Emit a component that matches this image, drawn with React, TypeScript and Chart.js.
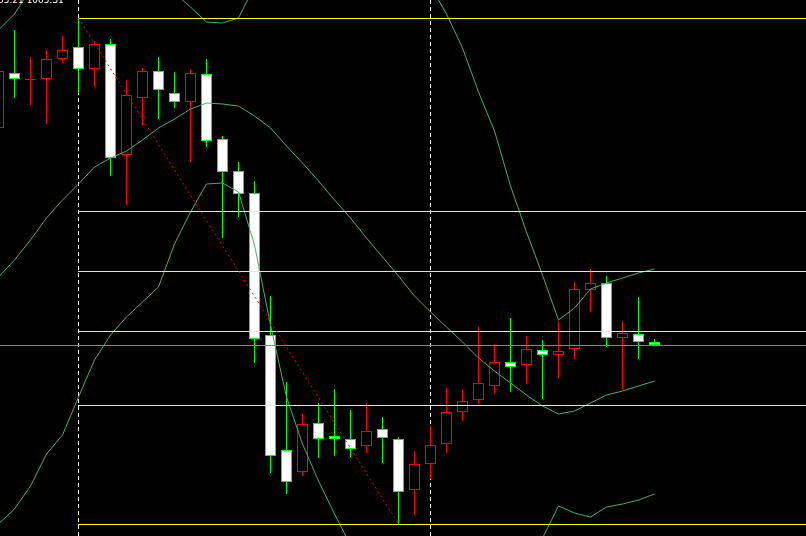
import React, { useEffect, useRef } from "react";
import { Chart, registerables } from "chart.js";

Chart.register(...registerables);

// Candle index of the first candle (partially visible at the left edge)
const firstCandle = -1;
const open = [997.2, 1002.7, 1002.0, 1002.1, 1004.1, 1005.3, 1003.1, 1005.6, 994.5, 1000.2, 1002.9, 1000.7, 999.8, 1002.6, 996.1, 992.9, 990.7, 976.5, 965.0, 962.8, 967.7, 966.4, 966.1, 965.4, 967.1, 966.1, 961.0, 963.6, 965.6, 968.8, 970.0, 971.4, 973.8, 973.5, 975.0, 974.5, 975.1, 981.0, 981.7, 976.2, 976.6, 975.8];
const high = [1004.0, 1007.0, 1004.3, 1005.0, 1006.4, 1008.2, 1005.9, 1006.1, 1002.0, 1003.2, 1004.3, 1002.8, 1003.1, 1004.1, 996.4, 993.8, 991.9, 980.4, 971.8, 968.6, 969.7, 971.1, 969.0, 969.7, 968.3, 966.3, 964.9, 967.4, 971.2, 971.0, 977.3, 975.6, 978.2, 976.4, 976.0, 977.9, 981.8, 983.1, 982.4, 977.9, 980.3, 976.1];
const low = [996.5, 1000.2, 999.5, 997.6, 1003.7, 1000.7, 1001.3, 992.4, 989.5, 997.4, 998.1, 999.2, 993.8, 995.3, 986.2, 988.3, 973.7, 962.7, 960.6, 962.4, 964.2, 964.4, 964.3, 964.7, 963.7, 957.6, 958.5, 962.1, 964.7, 967.9, 969.6, 970.7, 970.8, 971.6, 970.1, 972.2, 974.1, 978.8, 975.3, 971.1, 974.1, 975.5];
const close = [1002.9, 1002.1, 1002.1, 1004.1, 1005.0, 1003.1, 1005.6, 994.2, 1000.5, 1002.9, 1001.0, 999.8, 1002.7, 995.9, 992.8, 990.6, 976.1, 964.4, 961.8, 967.6, 966.1, 966.1, 965.1, 966.9, 966.2, 960.8, 963.6, 965.5, 968.8, 969.9, 971.7, 973.8, 973.3, 975.1, 974.5, 974.9, 981.1, 981.7, 976.2, 976.7, 975.8, 975.5];

// Bollinger bands, starting one candle before the first candle
const firstBand = -2;
const bandUpper = [1005.0, 1007.0, 1008.6, 1011.1, 1012.5, 1014.0, 1015.0, 1015.5, 1015.5, 1015.0, 1014.0, 1012.5, 1010.7, 1009.3, 1007.8, 1007.7, 1008.2, 1011.4, 1014.0, 1016.0, 1017.0, 1017.5, 1017.5, 1017.0, 1016.5, 1015.5, 1014.5, 1013.0, 1011.4, 1008.6, 1005.2, 1000.8, 996.9, 991.4, 986.8, 982.5, 978.0, 979.2, 981.1, 981.7, 982.2, 982.7, 983.1];
const bandMiddle = [980.7, 982.3, 984.0, 986.0, 988.2, 990.0, 991.6, 993.3, 994.2, 994.9, 996.0, 997.2, 998.1, 999.1, 999.7, 999.6, 999.4, 998.4, 997.2, 995.4, 993.7, 991.9, 990.0, 988.2, 986.2, 984.3, 982.4, 980.4, 978.8, 977.3, 975.8, 974.2, 972.9, 971.7, 970.5, 969.4, 968.6, 968.9, 969.7, 970.5, 970.9, 971.4, 971.9];
const bandLower = [956.5, 957.6, 959.1, 961.4, 964.6, 966.5, 970.3, 974.0, 976.5, 978.3, 979.8, 981.3, 985.6, 988.8, 991.6, 991.7, 990.8, 985.5, 977.5, 970.3, 965.6, 961.9, 958.6, 955.5, 953.0, 951.0, 949.5, 948.5, 948.0, 948.0, 948.5, 949.5, 950.8, 952.5, 954.2, 956.2, 959.4, 958.7, 958.3, 959.3, 959.6, 960.0, 960.6];

// Fibonacci retracement from swing high (candle 4) to swing low (candle 24)
const fibRatios = [0, 0.236, 0.382, 0.5, 0.618, 1];
const fibFrom = 4;
const fibTo = 24;
// Vertical period separators
const separators = [4, 26];
const headerText = "05.21 1005.51";

const X_MIN = -0.90625;
const X_MAX = 49.46875;
const Y_MIN = 956.4;
const Y_MAX = 1010;

const BEAR_LINE = "#00ff00";
const BULL_LINE = "#ff0000";

export default function App() {
  const ref = useRef<HTMLCanvasElement | null>(null);

  useEffect(() => {
    const canvas = ref.current;
    if (!canvas) return;
    const idx = open.map((_, i) => i + firstCandle);
    const isBull = open.map((o, i) => close[i] > o);
    const fibHigh = high[fibFrom - firstCandle];
    const fibLow = low[fibTo - firstCandle];
    const fibLevels = fibRatios.map((r) => fibLow + r * (fibHigh - fibLow));
    const bid = close[close.length - 1];

    const band = (arr: number[]) => arr.map((v, i) => ({ x: i + firstBand, y: v }));

    const overlay = {
      id: "overlay",
      beforeDatasetsDraw(chart: any) {
        const { ctx, scales, chartArea } = chart;
        const xs = scales.x;
        ctx.save();
        ctx.strokeStyle = "#ffffff";
        ctx.lineWidth = 1;
        ctx.setLineDash([4, 3]);
        separators.forEach((k) => {
          const x = Math.floor(xs.getPixelForValue(k)) + 0.5;
          ctx.beginPath();
          ctx.moveTo(x, chartArea.top);
          ctx.lineTo(x, chartArea.bottom);
          ctx.stroke();
        });
        ctx.restore();
      },
      afterDatasetsDraw(chart: any) {
        const { ctx, scales, chartArea } = chart;
        const xs = scales.x;
        const ys = scales.y;
        ctx.save();
        // bid line
        ctx.strokeStyle = "#778899";
        ctx.lineWidth = 1;
        const by = Math.round(ys.getPixelForValue(bid)) + 0.5;
        ctx.beginPath();
        ctx.moveTo(chartArea.left, by);
        ctx.lineTo(chartArea.right, by);
        ctx.stroke();
        // fibonacci levels
        ctx.strokeStyle = "#ffff00";
        const fx = Math.floor(xs.getPixelForValue(fibFrom));
        fibLevels.forEach((lv) => {
          const y = Math.round(ys.getPixelForValue(lv)) + 0.5;
          ctx.beginPath();
          ctx.moveTo(fx, y);
          ctx.lineTo(chartArea.right, y);
          ctx.stroke();
        });
        // trend line
        ctx.strokeStyle = "#ff0000";
        ctx.setLineDash([2, 3]);
        ctx.beginPath();
        ctx.moveTo(xs.getPixelForValue(fibFrom), ys.getPixelForValue(fibHigh));
        ctx.lineTo(xs.getPixelForValue(fibTo), ys.getPixelForValue(fibLow));
        ctx.stroke();
        ctx.setLineDash([]);
        // header text (cut at top)
        ctx.fillStyle = "#ffffff";
        ctx.font = "9px 'DejaVu Sans'";
        ctx.textBaseline = "alphabetic";
        ctx.fillText(headerText, -2, 3);
        ctx.restore();
      },
    };

    const chart = new Chart(canvas, {
      type: "bar",
      data: {
        datasets: [
          { type: "line", data: band(bandUpper), borderColor: "#3cb371", borderWidth: 1, pointRadius: 0, tension: 0, order: 0 },
          { type: "line", data: band(bandMiddle), borderColor: "#3cb371", borderWidth: 1, pointRadius: 0, tension: 0, order: 0 },
          { type: "line", data: band(bandLower), borderColor: "#3cb371", borderWidth: 1, pointRadius: 0, tension: 0, order: 0 },
          {
            type: "bar",
            data: idx.map((k, i) => ({ x: k, y: [open[i], close[i]] })),
            backgroundColor: isBull.map((b) => (b ? "#000000" : "#ffffff")),
            borderColor: isBull.map((b) => (b ? BULL_LINE : BEAR_LINE)),
            borderWidth: 1,
            borderSkipped: false,
            barThickness: 11,
            grouped: false,
            inflateAmount: 0,
            order: 1,
          },
          {
            type: "bar",
            data: idx.map((k, i) => ({ x: k, y: [low[i], high[i]] })),
            backgroundColor: isBull.map((b) => (b ? BULL_LINE : BEAR_LINE)),
            borderWidth: 0,
            barThickness: 1,
            grouped: false,
            inflateAmount: 0,
            order: 2,
          },
        ] as any,
      },
      options: {
        animation: false,
        responsive: false,
        events: [],
        layout: { padding: 0 },
        plugins: { legend: { display: false }, tooltip: { enabled: false } },
        scales: {
          x: { type: "linear", min: X_MIN, max: X_MAX, display: false, offset: false },
          y: { type: "linear", min: Y_MIN, max: Y_MAX, display: false },
        },
      } as any,
      plugins: [overlay],
    });
    return () => chart.destroy();
  }, []);

  return (
    <div style={{ position: "fixed", left: 0, top: 0, width: 806, height: 536, background: "#000" }}>
      <canvas ref={ref} width={806} height={536} style={{ display: "block" }} />
    </div>
  );
}
